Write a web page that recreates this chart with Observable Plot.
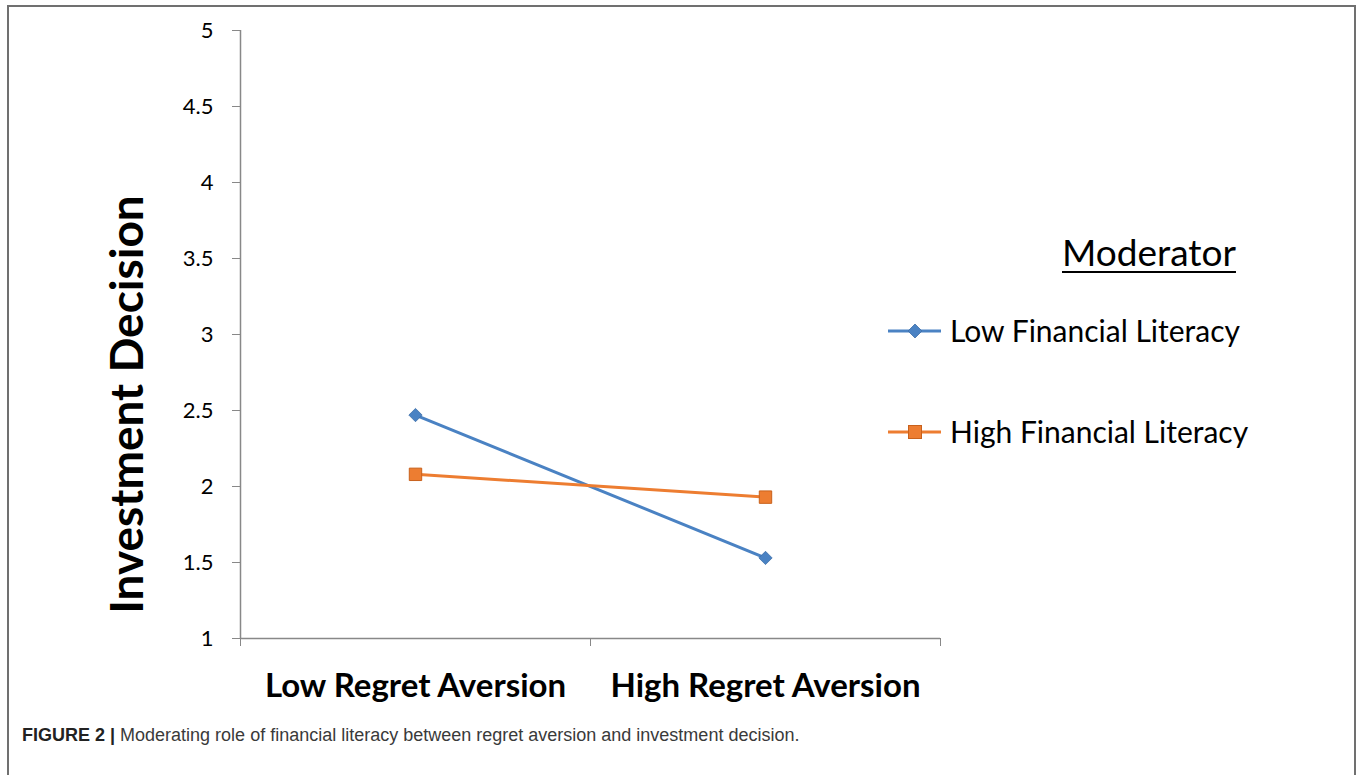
<!DOCTYPE html>
<html><head><meta charset="utf-8">
<script src="https://cdn.jsdelivr.net/npm/d3@7"></script>
<script src="https://cdn.jsdelivr.net/npm/@observablehq/plot@0.6"></script>
<style>
body{margin:0;background:#fff;}
#wrap{position:relative;width:1363px;height:775px;overflow:hidden;background:#fff;}
#frame{position:absolute;left:7px;top:5px;width:1349px;height:820px;border:2px solid #707070;box-sizing:border-box;}
#chart{position:absolute;left:0;top:0;}
.leg{position:absolute;font-family:Lato,sans-serif;color:#000;white-space:nowrap;}
#caption{position:absolute;left:22px;top:725px;font-family:"Liberation Sans",Arial,sans-serif;font-size:18px;color:#3a3a3a;white-space:nowrap;}
#caption b{color:#222;}
</style></head>
<body><div id="wrap"><div id="frame"></div><div id="chart"></div><div id="legend"></div>
<div id="caption"><b>FIGURE 2 |</b> Moderating role of financial literacy between regret aversion and investment decision.</div></div>
<script>
const categories = ["Low Regret Aversion", "High Regret Aversion"];
const seriesNames = ["Low Financial Literacy", "High Financial Literacy"];
const lowFL = [2.47, 1.53];
const highFL = [2.08, 1.93];
const yTicks = [1, 1.5, 2, 2.5, 3, 3.5, 4, 4.5, 5];
const colors = ["#4a82c3", "#ed7d31"];
const yTitle = "Investment Decision";
const legendTitle = "Moderator";

const data = [];
categories.forEach((c, i) => {
  data.push({series: seriesNames[0], cat: c, pos: i + 0.5, value: lowFL[i]});
  data.push({series: seriesNames[1], cat: c, pos: i + 0.5, value: highFL[i]});
});
const boundaryTicks = d3.range(categories.length + 1);
const centerTicks = categories.map((c, i) => i + 0.5);

const plot = Plot.plot({
  width: 1363, height: 720,
  marginLeft: 240, marginRight: 423, marginTop: 30, marginBottom: 82,
  style: {fontFamily: "Lato, sans-serif", background: "transparent", overflow: "visible", color: "#000"},
  x: {domain: [0, categories.length]},
  y: {domain: [1, 5]},
  color: {domain: seriesNames, range: colors},
  marks: [
    Plot.axisY({ticks: yTicks, tickSize: 8, tickPadding: 19, tickFormat: d => String(d), fontSize: 22, label: null, stroke: "#888", fill: "#000"}),
    Plot.axisX({ticks: boundaryTicks, tickSize: 8, tickFormat: () => "", label: null, stroke: "#888"}),
    Plot.axisX({ticks: centerTicks, tickSize: 0, tickPadding: 35, tickFormat: d => categories[Math.floor(d)], fontSize: 33, fontWeight: "bold", label: null, fill: "#000"}),
    Plot.ruleX([0], {stroke: "#888", strokeWidth: 1.5}),
    Plot.ruleY([1], {stroke: "#888", strokeWidth: 1.5}),
    Plot.line(data, {x: "pos", y: "value", z: "series", stroke: "series", strokeWidth: 3}),
    Plot.dot(data.filter(d => d.series === seriesNames[0]), {x: "pos", y: "value", symbol: "diamond2", r: 6, fill: colors[0], stroke: "#3d6fa8", strokeWidth: 0.8}),
    Plot.dot(data.filter(d => d.series === seriesNames[1]), {x: "pos", y: "value", symbol: "square", r: 7, fill: colors[1], stroke: "#c8611c", strokeWidth: 1}),
    Plot.text([yTitle], {frameAnchor: "left", textAnchor: "middle", dx: -112, dy: 70, rotate: -90, fontSize: 46, fontWeight: "bold", fill: "#000"})
  ]
});
document.getElementById("chart").appendChild(plot);

// legend
const leg = document.getElementById("legend");
const t = document.createElement("div");
t.className = "leg";
t.style.cssText = "left:1062px;top:229px;font-size:37px;text-decoration:underline;text-underline-offset:5px;text-decoration-thickness:2px;";
t.textContent = legendTitle;
leg.appendChild(t);
const legY = [331, 432];
seriesNames.forEach((s, i) => {
  const sw = document.createElementNS("http://www.w3.org/2000/svg", "svg");
  sw.setAttribute("width", 56); sw.setAttribute("height", 20);
  sw.style.cssText = `position:absolute;left:886px;top:${legY[i] - 10}px;`;
  const sym = i === 0
    ? `<path d="M29,3 L36,10 L29,17 L22,10Z" fill="${colors[0]}" stroke="#3d6fa8" stroke-width="0.8"/>`
    : `<rect x="22.5" y="3.5" width="13" height="13" fill="${colors[1]}" stroke="#c8611c"/>`;
  sw.innerHTML = `<line x1="2" x2="55" y1="10" y2="10" stroke="${colors[i]}" stroke-width="3"/>` + sym;
  leg.appendChild(sw);
  const lt = document.createElement("div");
  lt.className = "leg";
  lt.style.cssText = `left:950px;top:${legY[i] - 19}px;font-size:30px;`;
  lt.textContent = s;
  leg.appendChild(lt);
});
</script>
</body></html>
